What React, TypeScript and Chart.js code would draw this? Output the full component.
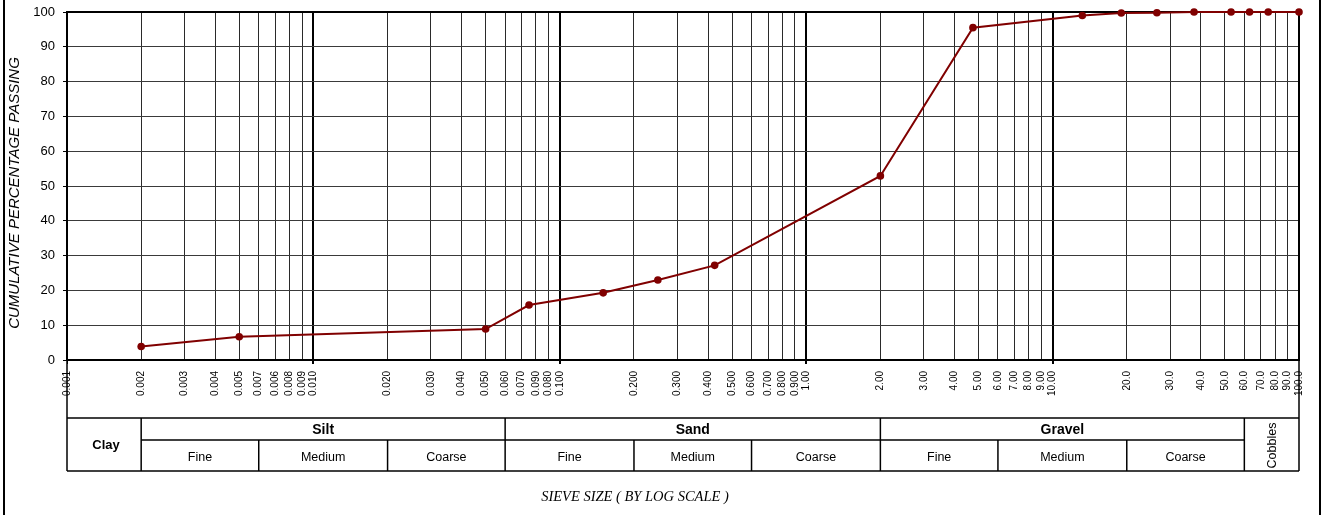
import React, { useEffect, useRef } from 'react';
import { Chart, registerables } from 'chart.js';

Chart.register(...registerables);

// ---- data ----
const sieveSizes = [0.002, 0.005, 0.05, 0.075, 0.15, 0.25, 0.425, 2, 4.75, 13.2, 19, 26.5, 37.5, 53, 63, 75, 100];
const percentPassing = [3.9, 6.7, 8.9, 15.8, 19.3, 23.0, 27.2, 52.9, 95.5, 99.0, 99.7, 99.8, 100, 100, 100, 100, 100];

const tickValues = [
  0.001, 0.002, 0.003, 0.004, 0.005, 0.006, 0.007, 0.008, 0.009,
  0.01, 0.02, 0.03, 0.04, 0.05, 0.06, 0.07, 0.08, 0.09,
  0.1, 0.2, 0.3, 0.4, 0.5, 0.6, 0.7, 0.8, 0.9,
  1, 2, 3, 4, 5, 6, 7, 8, 9,
  10, 20, 30, 40, 50, 60, 70, 80, 90, 100,
];
const tickLabels = [
  '0.001', '0.002', '0.003', '0.004', '0.005', '0.007', '0.006', '0.008', '0.009',
  '0.010', '0.020', '0.030', '0.040', '0.050', '0.060', '0.070', '0.090', '0.080',
  '0.100', '0.200', '0.300', '0.400', '0.500', '0.600', '0.700', '0.800', '0.900',
  '1.00', '2.00', '3.00', '4.00', '5.00', '6.00', '7.00', '8.00', '9.00',
  '10.00', '20.0', '30.0', '40.0', '50.0', '60.0', '70.0', '80.0', '90.0', '100.0',
];
const decadeValues = [0.01, 0.1, 1, 10];

const mainClassNames = ['Clay', 'Silt', 'Sand', 'Gravel', 'Cobbles'];
const mainClassBounds = [0.001, 0.002, 0.06, 2, 60, 100];
const subClassNames = ['Fine', 'Medium', 'Coarse'];
const siltBounds = [0.002, 0.006, 0.02, 0.06];
const sandBounds = [0.06, 0.2, 0.6, 2];
const gravelBounds = [2, 6, 20, 60];

const yTitle = 'CUMULATIVE PERCENTAGE PASSING';
const xTitle = 'SIEVE SIZE ( BY LOG SCALE )';

const SANS = '"Liberation Sans", Arial, sans-serif';
const SERIF = '"Liberation Serif", "Times New Roman", serif';

const isDecade = (v: number | undefined) =>
  v !== undefined && decadeValues.some((d) => Math.abs(v - d) / d < 1e-6);

const gradingPlugin = {
  id: 'gradingTable',
  beforeDatasetsDraw(chart: any) {
    const { ctx, chartArea: a } = chart;
    ctx.save();
    ctx.strokeStyle = '#000';
    ctx.lineWidth = 2;
    ctx.strokeRect(a.left, a.top, a.right - a.left, a.bottom - a.top);
    ctx.restore();
  },
  afterDraw(chart: any) {
    const { ctx, chartArea: a, width, height } = chart;
    const xs = chart.scales.x;
    const px = (v: number) => xs.getPixelForValue(v);
    const top = a.bottom + 58;
    const mid = a.bottom + 80;
    const bot = a.bottom + 111;
    ctx.save();
    ctx.strokeStyle = '#000';
    ctx.lineWidth = 1.5;
    const line = (x1: number, y1: number, x2: number, y2: number) => {
      ctx.beginPath();
      ctx.moveTo(x1, y1);
      ctx.lineTo(x2, y2);
      ctx.stroke();
    };
    line(a.left, a.bottom, a.left, bot);
    line(a.right, a.bottom, a.right, bot);
    line(a.left, top, a.right, top);
    line(a.left, bot, a.right, bot);
    line(px(mainClassBounds[1]), mid, px(mainClassBounds[4]), mid);
    mainClassBounds.slice(1, -1).forEach((b) => line(px(b), top, px(b), bot));
    const subs = [siltBounds, sandBounds, gravelBounds];
    subs.forEach((bs) => bs.slice(1, -1).forEach((b) => line(px(b), mid, px(b), bot)));

    ctx.fillStyle = '#000';
    ctx.textAlign = 'center';
    ctx.textBaseline = 'middle';
    // Clay
    ctx.font = `bold 13px ${SANS}`;
    ctx.fillText(mainClassNames[0], (px(mainClassBounds[0]) + px(mainClassBounds[1])) / 2 + 2, (top + bot) / 2 + 1);
    // Silt / Sand / Gravel
    ctx.font = `bold 14px ${SANS}`;
    for (let i = 1; i <= 3; i++) {
      ctx.fillText(mainClassNames[i], (px(mainClassBounds[i]) + px(mainClassBounds[i + 1])) / 2, (top + mid) / 2 + 1.5);
    }
    // sub classes
    ctx.font = `12.5px ${SANS}`;
    subs.forEach((bs) => {
      for (let j = 0; j < 3; j++) {
        ctx.fillText(subClassNames[j], (px(bs[j]) + px(bs[j + 1])) / 2, (mid + bot) / 2 + 2);
      }
    });
    // Cobbles (rotated)
    ctx.save();
    ctx.translate((px(mainClassBounds[4]) + a.right) / 2 + 1, (top + bot) / 2 + 1);
    ctx.rotate(-Math.PI / 2);
    ctx.font = `12.5px ${SANS}`;
    ctx.fillText(mainClassNames[4], 0, 0);
    ctx.restore();

    // y title
    ctx.save();
    ctx.translate(15, (a.top + a.bottom) / 2 + 7);
    ctx.rotate(-Math.PI / 2);
    ctx.font = `italic 15px ${SANS}`;
    ctx.fillText(yTitle, 0, 0);
    ctx.restore();

    // x title
    ctx.font = `italic 14.5px ${SERIF}`;
    ctx.fillText(xTitle, 635, height - 18);

    // outer frame lines
    ctx.fillRect(3, 0, 2, height);
    ctx.fillRect(width - 2, 0, 2, height);
    ctx.restore();
  },
};

export default function App() {
  const canvasRef = useRef<HTMLCanvasElement | null>(null);

  useEffect(() => {
    const canvas = canvasRef.current;
    if (!canvas) return;
    const chart = new Chart(canvas, {
      type: 'line',
      data: {
        datasets: [
          {
            data: sieveSizes.map((s, i) => ({ x: s, y: percentPassing[i] })),
            borderColor: '#800000',
            backgroundColor: '#800000',
            borderWidth: 2,
            pointRadius: 3.8,
            pointHoverRadius: 3.8,
            pointBorderWidth: 0,
            tension: 0,
            clip: false as any,
          },
        ],
      },
      options: {
        animation: false,
        responsive: false,
        events: [],
        layout: { padding: { left: 6, top: 12, right: 22, bottom: 0 } },
        plugins: { legend: { display: false }, tooltip: { enabled: false } },
        scales: {
          x: {
            type: 'logarithmic',
            min: 0.001,
            max: 100,
            afterBuildTicks: (s: any) => {
              s.ticks = tickValues.map((v) => ({ value: v }));
            },
            afterFit: (s: any) => {
              s.height = 155;
            },
            ticks: {
              autoSkip: false,
              minRotation: 90,
              maxRotation: 90,
              padding: 7,
              color: '#000',
              font: { family: SANS, size: 10 },
              callback: (_v: any, i: number) => tickLabels[i],
            },
            grid: {
              color: (c: any) => (isDecade(c.tick?.value) ? '#000' : '#2a2a2a'),
              lineWidth: (c: any) => (isDecade(c.tick?.value) ? 2 : 1),
              tickColor: (c: any) =>
                isDecade(c.tick?.value) || c.index === 0 ? '#000' : 'rgba(0,0,0,0)',
              tickLength: 4,
            },
            border: { display: false },
          },
          y: {
            min: 0,
            max: 100,
            afterFit: (s: any) => {
              s.width = 61;
              s.paddingTop = 0;
              s.paddingBottom = 0;
            },
            ticks: {
              stepSize: 10,
              padding: 8,
              color: '#000',
              font: { family: SANS, size: 13 },
            },
            grid: { color: '#3a3a3a', lineWidth: 1, tickColor: '#000', tickLength: 4 },
            border: { display: false },
            title: { display: false },
          },
        },
      } as any,
      plugins: [gradingPlugin],
    });
    return () => chart.destroy();
  }, []);

  return (
    <canvas
      ref={canvasRef}
      width={1321}
      height={515}
      style={{ position: 'absolute', left: 0, top: 0, width: 1321, height: 515 }}
    />
  );
}
